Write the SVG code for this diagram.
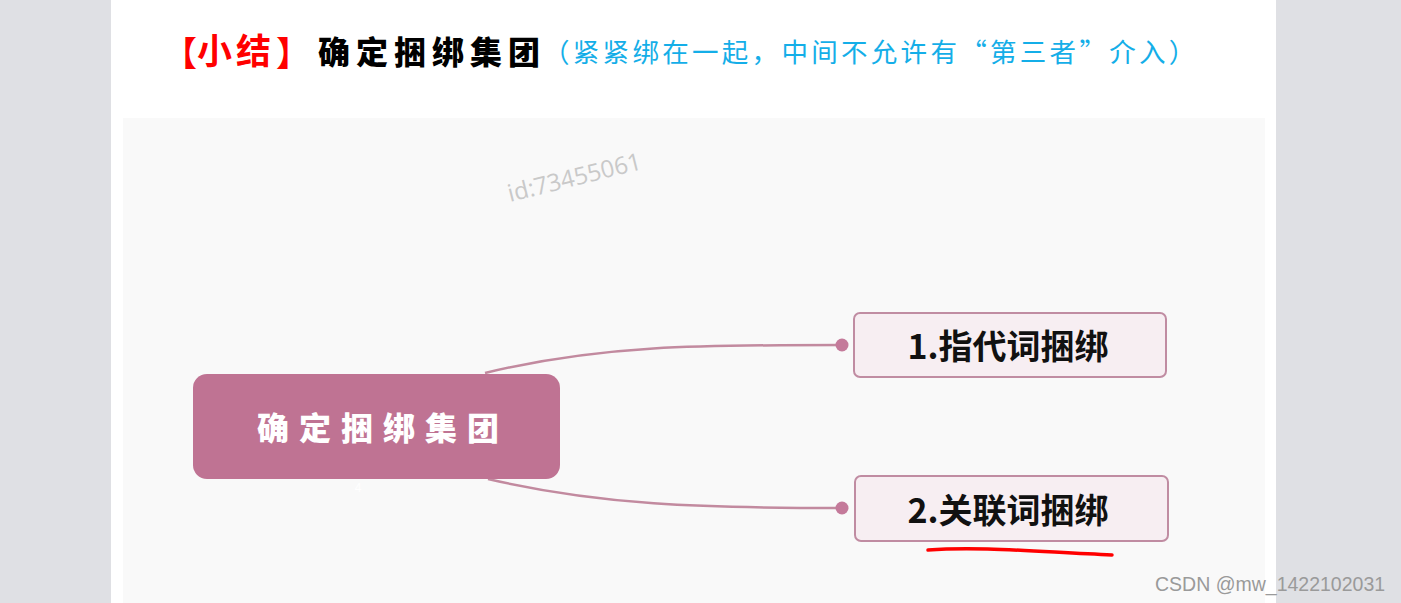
<svg xmlns="http://www.w3.org/2000/svg" width="1401" height="603" viewBox="0 0 1401 603">
<defs>
<style>
.cjk{font-family:"Noto Sans CJK SC","Noto Sans",sans-serif}
.red{font-family:"Noto Sans CJK SC","Noto Sans",sans-serif;font-weight:bold;fill:#ff0000}
.child{fill:#f7eef2;stroke:#c08ca2;stroke-width:2}
.ctext{font-family:"Noto Sans CJK SC","Noto Sans",sans-serif;font-weight:bold;font-size:34px;fill:#111;text-anchor:middle}
.conn{fill:none;stroke:#c28a9f;stroke-width:2.5}
.dot{fill:#c47a9a}
</style>
</defs>
<rect x="0" y="0" width="1401" height="603" fill="#dfe0e4"/>
<rect x="111" y="0" width="1165" height="603" fill="#ffffff"/>
<rect x="123" y="118" width="1142" height="485" fill="#f9f9f9"/>
<g id="title">
<text x="163" y="66" class="red" font-size="34">【</text>
<text x="197" y="64" class="red" font-size="35" letter-spacing="4">小结</text>
<text x="276" y="66" class="red" font-size="34">】</text>
<text x="318" y="64" class="cjk" font-size="32" font-weight="900" fill="#000" letter-spacing="6">确定捆绑集团</text>
<text x="543" y="62" class="cjk" font-size="26.5" fill="#14aee8" letter-spacing="3.3">（紧紧绑在一起，中间不允许有“第三者”介入）</text>
</g>
<text x="510" y="202" font-family="Open Sans,sans-serif" font-size="24" fill="#c9c9c9" transform="rotate(-14 510 202)">id:73455061</text>
<g id="connectors">
<path class="conn" d="M485,373 C600,345 700,345 842,345"/>
<path class="conn" d="M488,479 C600,505 700,508 842,508"/>
<circle class="dot" cx="842" cy="345" r="6.5"/>
<circle class="dot" cx="842" cy="508" r="6.5"/>
</g>
<g id="root">
<rect x="193" y="374" width="367" height="105" rx="14" fill="#bf7393"/>
<text x="257" y="440" class="cjk" font-size="32" font-weight="900" fill="#ffffff" letter-spacing="10">确定捆绑集团</text>
<text x="358" y="492" font-family="Liberation Sans,sans-serif" font-size="12" fill="#ffffff" text-anchor="middle">4</text>
</g>
<g id="node1">
<rect class="child" x="854" y="313" width="312" height="64" rx="6"/>
<text class="ctext" x="1008" y="359">1.指代词捆绑</text>
</g>
<g id="node2">
<rect class="child" x="855" y="476" width="313" height="65" rx="6"/>
<text class="ctext" x="1008" y="523">2.关联词捆绑</text>
<path d="M928,550 C980,546 1040,552 1112,555" fill="none" stroke="#ff0000" stroke-width="3.5" stroke-linecap="round"/>
</g>
<text x="1155" y="591" font-family="Liberation Sans,sans-serif" font-size="19.5" fill="#9a9a9a">CSDN @mw_1422102031</text>
</svg>
